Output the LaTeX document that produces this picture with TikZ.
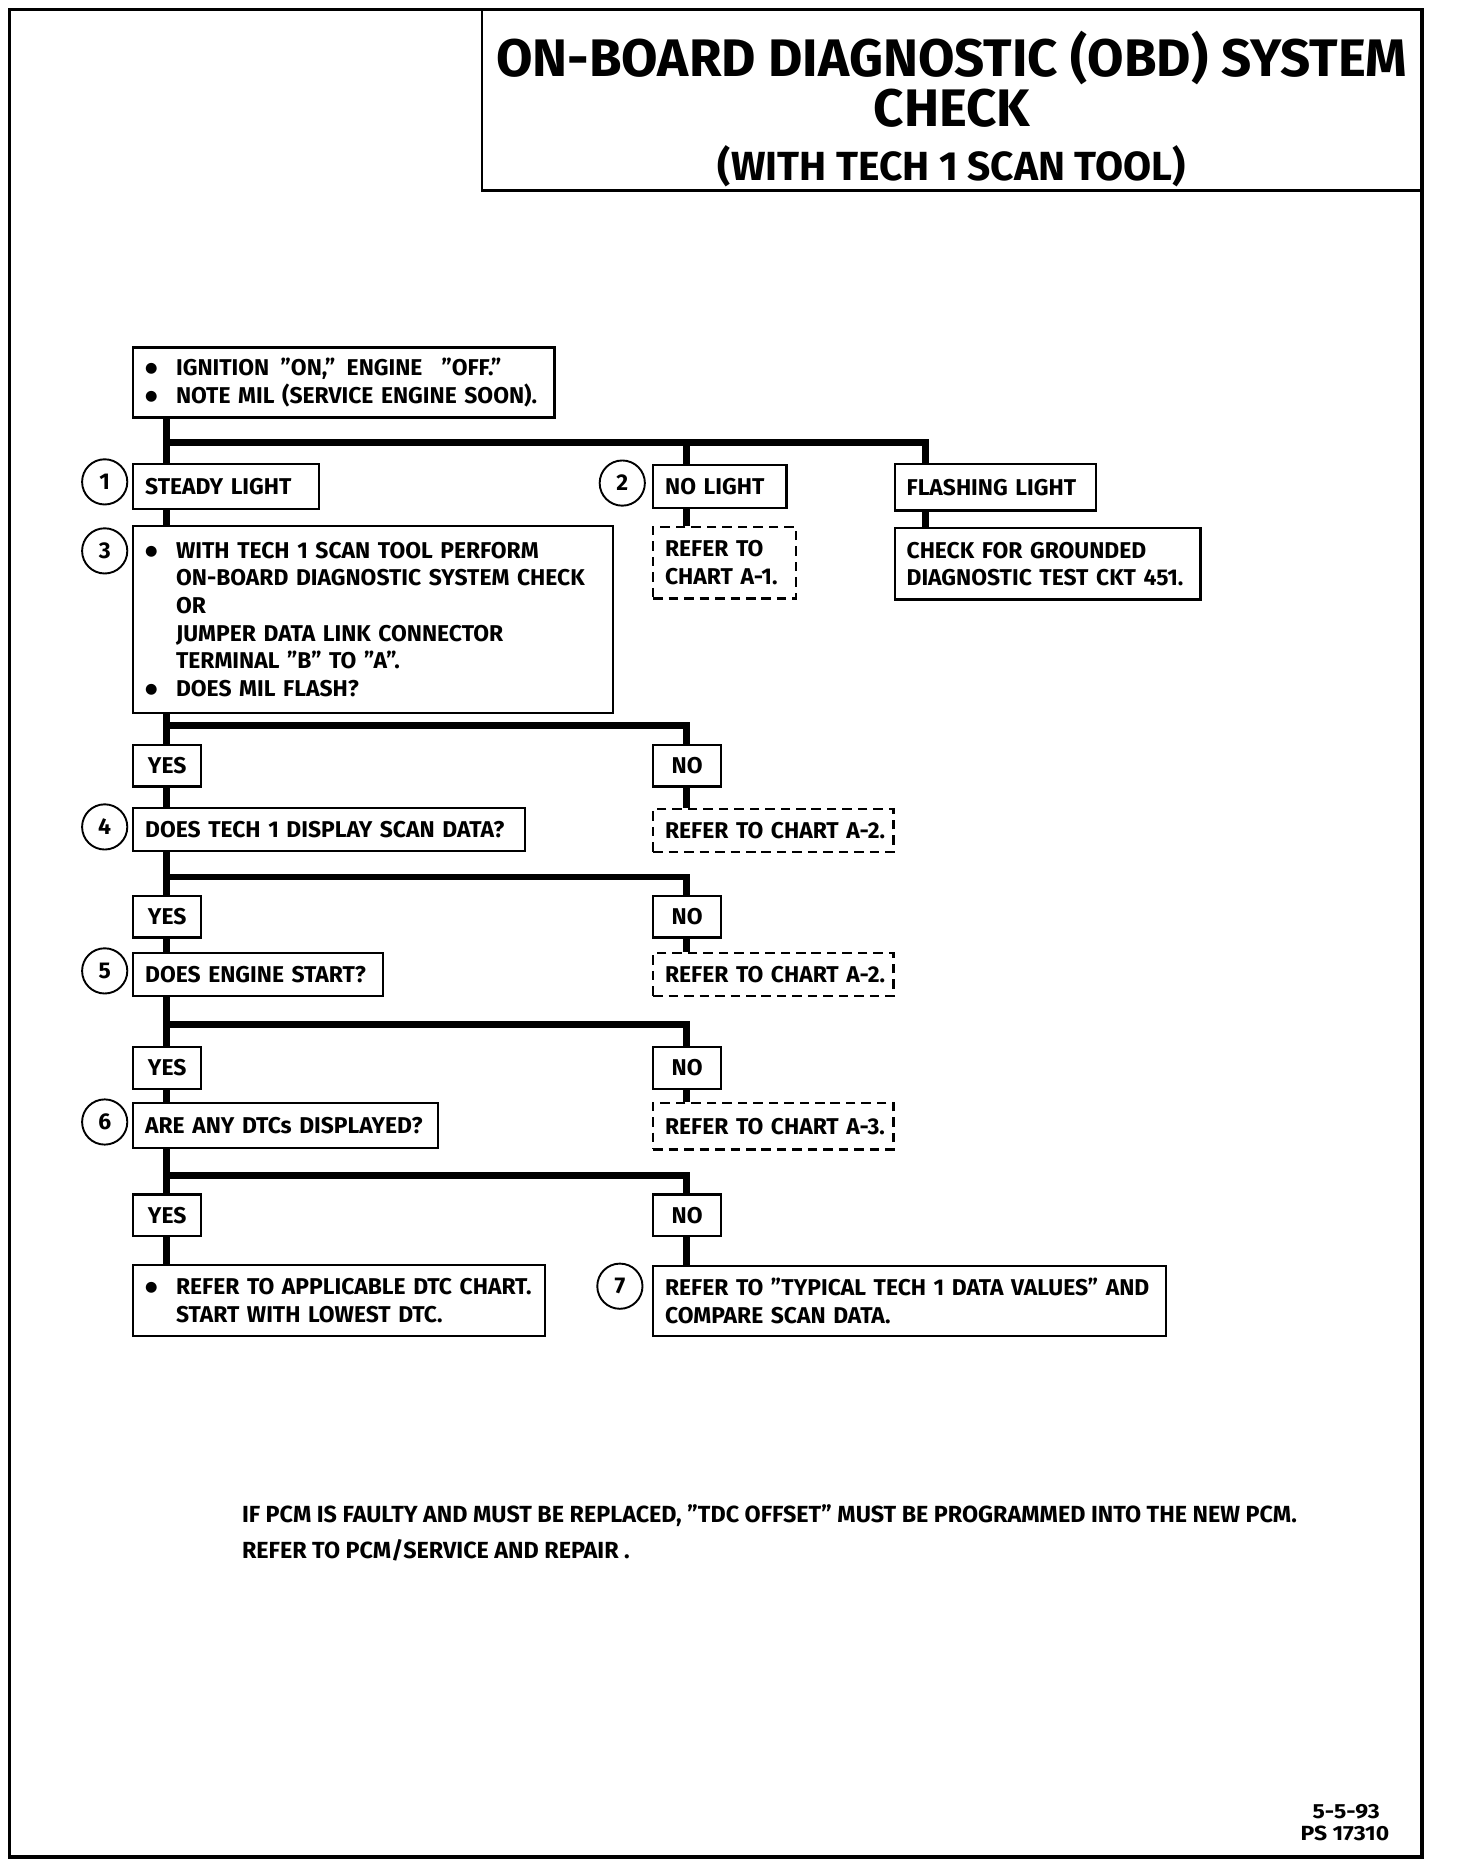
\documentclass[tikz,border=0pt]{standalone}
\usepackage{fontspec}
\setmainfont{Fira Sans}
\newfontfamily\dotfont{DejaVu Sans}
\usetikzlibrary{positioning}

\newcommand\boxfont{\fontsize{9.6}{11.6}\selectfont\bfseries}
\newcommand\bul{\makebox[13pt][l]{\raisebox{1.3pt}{\dotfont\fontsize{6}{6}\selectfont ●}}}
\newcommand\ind{\hspace*{13pt}}

\tikzset{
	flowbox/.style={draw, line width=1pt, anchor=north west, inner xsep=5pt, inner ysep=0pt, align=left, font=\boxfont},
	refbox/.style={flowbox, dash pattern=on 4pt off 2.5pt},
	ansbox/.style={draw, line width=1pt, anchor=north west, inner sep=0pt, minimum width=28.5pt, minimum height=17.5pt, font=\boxfont},
	numcirc/.style={draw, circle, line width=0.8pt, minimum size=19pt, inner sep=0pt, font=\boxfont},
	flow/.style={line width=2.8pt, line join=miter},
	plain/.style={inner sep=0pt, font=\fontsize{9.8}{11}\selectfont\bfseries}
}

\begin{document}
\begin{tikzpicture}[x=0.5pt, y=-0.5pt]
	\useasboundingbox (0,0) rectangle (1224,1570);
	% frame and title
	\draw[line width=1.6pt] (8,8) rectangle (1195,1561);
	\draw[line width=1pt] (405,8) rectangle (1195,160);
	\node[inner sep=0pt, align=center, font=\fontsize{22.2}{21}\selectfont\bfseries] (title) at (800,67) {ON-BOARD DIAGNOSTIC (OBD) SYSTEM\\ CHECK};
	\node[inner sep=0pt, font=\fontsize{17.1}{20}\selectfont\bfseries] (subtitle) at (800,140) {(WITH TECH 1 SCAN TOOL)};

	% boxes
	\node[flowbox, text width=167pt, minimum height=29.5pt] (ign) at (111,291) {\bul IGNITION \thinspace"ON,"\thinspace{} ENGINE \enskip"OFF."\\ \bul NOTE MIL (SERVICE ENGINE SOON).};
	\node[flowbox, text width=68pt, minimum height=19pt] (steady) at (111,389) {STEADY LIGHT};
	\node[flowbox, text width=46pt, minimum height=18pt] (nolight) at (548,390) {NO LIGHT};
	\node[flowbox, text width=74.5pt, minimum height=19.5pt] (flash) at (751,389) {FLASHING LIGHT};
	\node[flowbox, text width=191.5pt, minimum height=78.5pt] (check3) at (111,441) {\bul WITH TECH 1 SCAN TOOL PERFORM\\ \ind ON-BOARD DIAGNOSTIC SYSTEM CHECK\\ \ind OR\\ \ind JUMPER DATA LINK CONNECTOR\\ \ind TERMINAL "B" TO "A".\\ \bul DOES MIL FLASH?};
	\node[refbox, text width=50pt, minimum height=30pt] (chartA1) at (548,442) {REFER TO\\ CHART A-1.};
	\node[flowbox, text width=118.5pt, minimum height=30pt] (grounded) at (751,443) {CHECK FOR GROUNDED\\ DIAGNOSTIC TEST CKT 451.};

	\node[ansbox] (yes1) at (111,625) {YES};
	\node[ansbox] (no1) at (548,625) {NO};
	\node[flowbox, text width=154.5pt, minimum height=18pt] (scan) at (111,678) {DOES TECH 1 DISPLAY SCAN DATA?};
	\node[refbox, text width=91pt, minimum height=18pt] (chartA2a) at (548,679) {\mbox{REFER TO CHART A-2.}};

	\node[ansbox] (yes2) at (111,752) {YES};
	\node[ansbox] (no2) at (548,752) {NO};
	\node[flowbox, text width=95pt, minimum height=18pt] (start) at (111,800) {DOES ENGINE START?};
	\node[refbox, text width=91pt, minimum height=18pt] (chartA2b) at (548,800) {\mbox{REFER TO CHART A-2.}};

	\node[ansbox] (yes3) at (111,879) {YES};
	\node[ansbox] (no3) at (548,879) {NO};
	\node[flowbox, text width=118pt, minimum height=19pt] (dtcs) at (111,926) {ARE ANY DTCs DISPLAYED?};
	\node[refbox, text width=91pt, minimum height=19.5pt] (chartA3) at (548,926) {\mbox{REFER TO CHART A-3.}};

	\node[ansbox] (yes4) at (111,1003) {YES};
	\node[ansbox] (no4) at (548,1003) {NO};
	\node[flowbox, text width=163pt, minimum height=30pt] (dtcchart) at (111,1062) {\bul REFER TO APPLICABLE DTC CHART.\\ \ind START WITH LOWEST DTC.};
	\node[flowbox, text width=205.5pt, minimum height=29.5pt] (typical) at (548,1063) {REFER TO "TYPICAL TECH 1 DATA VALUES" AND\\ COMPARE SCAN DATA.};

	% step numbers
	\node[numcirc] (c1) at (88,405) {1};
	\node[numcirc] (c2) at (523,406) {2};
	\node[numcirc] (c3) at (88,463) {3};
	\node[numcirc] (c4) at (88,695) {4};
	\node[numcirc] (c5) at (88,816) {5};
	\node[numcirc] (c6) at (88,943) {6};
	\node[numcirc] (c7) at (521,1081) {7};

	% connectors
	\coordinate (bus0) at (140,372);
	\draw[flow] ([xshift=14.5pt]ign.south west) -- ([xshift=14.5pt]steady.north west);
	\draw[flow] (bus0) -| ([xshift=14.5pt]nolight.north west);
	\draw[flow] (bus0) -| ([xshift=13.5pt]flash.north west);
	\draw[flow] ([xshift=14.5pt]steady.south west) -- ([xshift=14.5pt]check3.north west);
	\draw[flow] ([xshift=14.5pt]nolight.south west) -- ([xshift=14.5pt]chartA1.north west);
	\draw[flow] ([xshift=13.5pt]flash.south west) -- ([xshift=13.5pt]grounded.north west);
	\foreach \q/\y/\n/\b in {check3/yes1/no1/610, scan/yes2/no2/737, start/yes3/no3/861, dtcs/yes4/no4/988} {
		\coordinate (bus\b) at (140,\b);
		\draw[flow] ([xshift=14.5pt]\q.south west) -- ([xshift=14.5pt]\y.north west);
		\draw[flow] (bus\b) -| ([xshift=14.5pt]\n.north west);
	}
	\foreach \a/\t in {yes1/scan, no1/chartA2a, yes2/start, no2/chartA2b, yes3/dtcs, no3/chartA3, yes4/dtcchart, no4/typical}
		\draw[flow] ([xshift=14.5pt]\a.south west) -- ([xshift=14.5pt]\t.north west);

	% note and reference
	\node[plain, anchor=west] (note1) at (203,1274) {IF PCM IS FAULTY AND MUST BE REPLACED, "TDC OFFSET" MUST BE PROGRAMMED INTO THE NEW PCM.};
	\node[plain, anchor=west] (note2) at (203,1303) {REFER TO PCM/SERVICE AND REPAIR .};
	\node[plain, anchor=east, align=right, font=\fontsize{8.6}{9}\selectfont\bfseries] (psno) at (1168,1532) {\scalebox{1.12}[1]{5-5-93}\hspace*{4pt}\\ \scalebox{1.12}[1]{PS 17310}};
\end{tikzpicture}
\end{document}
